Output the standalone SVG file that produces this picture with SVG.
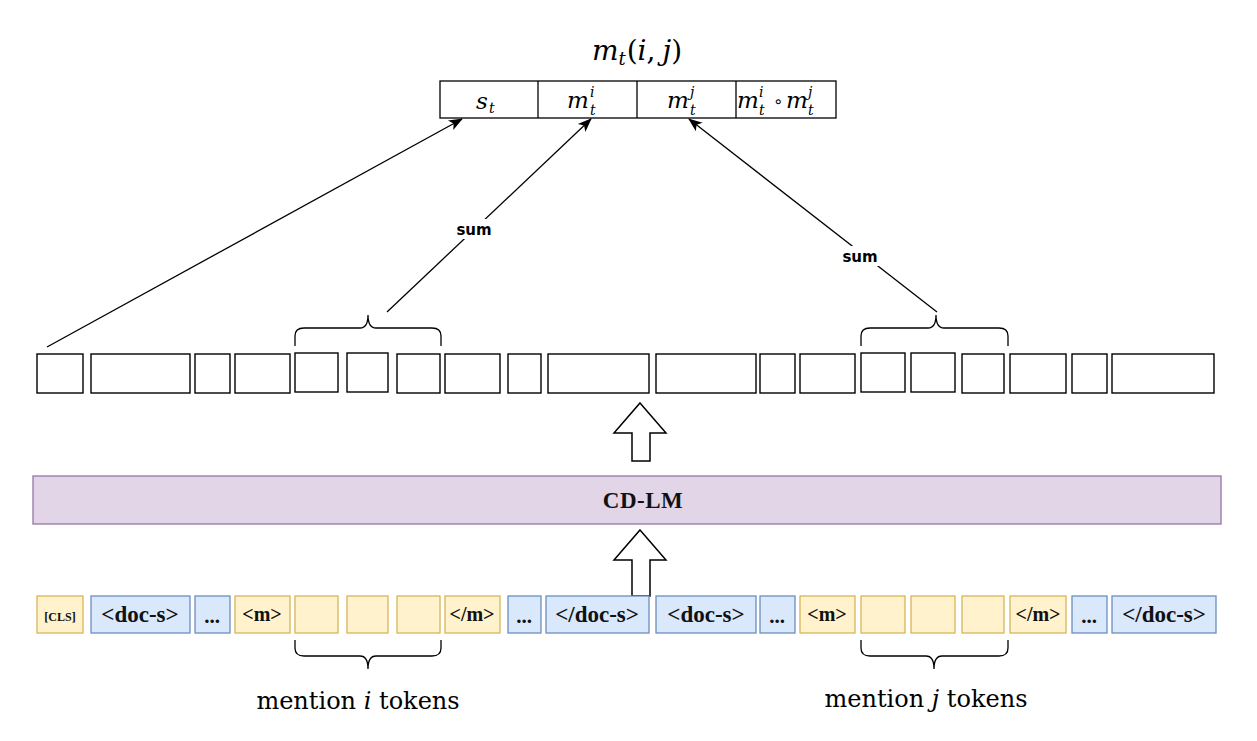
<svg xmlns="http://www.w3.org/2000/svg" width="1257" height="741" viewBox="0 0 1257 741">
<defs>
<marker id="arr" markerWidth="14" markerHeight="14" viewBox="0 0 14 14" refX="13" refY="7" orient="auto" markerUnits="userSpaceOnUse">
<path d="M0,1.5 L14,7 L0,12.5 L3.5,7 Z" fill="#000"/>
</marker>
<style>
.vec{fill:#fff;stroke:#000;stroke-width:1.3}
.hid{fill:#fff;stroke:#000;stroke-width:1.4}
.y{fill:#fff2cc;stroke:#d6b656;stroke-width:1.3}
.b{fill:#dae8fc;stroke:#6c8ebf;stroke-width:1.3}
.tok{font-family:"Liberation Serif",serif;font-weight:bold;fill:#111;text-anchor:middle}
.t23{font-size:23px}
.t21{font-size:21px}
.t20{font-size:20px}
.t12{font-size:12px}
.m{font-family:"DejaVu Serif",serif;font-style:italic;fill:#000}
.mb{font-size:23px}
.ms{font-size:14px}
.sum{font-family:"DejaVu Sans",sans-serif;font-weight:bold;font-size:15px;fill:#000;text-anchor:middle}
.ln{fill:none;stroke:#000;stroke-width:1.3}
.br{fill:none;stroke:#000;stroke-width:1.3}
.blk{fill:#fff;stroke:#000;stroke-width:1.5}
.lbl{font-family:"DejaVu Serif",serif;font-size:24px;fill:#000;text-anchor:middle}
.cd{font-family:"Liberation Serif",serif;font-weight:bold;font-size:23px;fill:#111;text-anchor:middle}
</style>
</defs>
<rect width="1257" height="741" fill="#fff"/>

<g id="title">
<text class="m" x="637" y="60" font-size="28" text-anchor="middle">m<tspan font-size="18" dy="5">t</tspan><tspan dy="-5" dx="1" font-style="normal">(</tspan>i<tspan font-style="normal">,</tspan><tspan dx="7">j</tspan><tspan font-style="normal">)</tspan></text>
</g>

<g id="vector">
<rect class="vec" x="440" y="81" width="396" height="37"/>
<line class="vec" x1="538" y1="81" x2="538" y2="118"/>
<line class="vec" x1="637" y1="81" x2="637" y2="118"/>
<line class="vec" x1="736" y1="81" x2="736" y2="118"/>
<text class="m mb" x="476" y="109">s</text><text class="m ms" x="489" y="113">t</text>
<text class="m mb" x="567" y="108">m</text><text class="m ms" x="590" y="97">i</text><text class="m ms" x="590" y="115">t</text>
<text class="m mb" x="667" y="108">m</text><text class="m ms" x="690" y="97">j</text><text class="m ms" x="690" y="115">t</text>
<text class="m mb" x="737" y="108">m</text><text class="m ms" x="759" y="97">i</text><text class="m ms" x="759" y="115">t</text>
<text x="778" y="107" font-size="16" font-family="DejaVu Sans,sans-serif" text-anchor="middle">∘</text>
<text class="m mb" x="786" y="108">m</text><text class="m ms" x="808" y="97">j</text><text class="m ms" x="808" y="115">t</text>
</g>

<g id="hidden">
<rect class="hid" x="37" y="354" width="46" height="39"/>
<rect class="hid" x="91" y="354" width="99" height="39"/>
<rect class="hid" x="195" y="354" width="35" height="39"/>
<rect class="hid" x="235" y="354" width="55" height="39"/>
<rect class="hid" x="295" y="353" width="43" height="39"/>
<rect class="hid" x="347" y="353" width="41" height="39"/>
<rect class="hid" x="397" y="354" width="43" height="39"/>
<rect class="hid" x="445" y="354" width="55" height="39"/>
<rect class="hid" x="508" y="354" width="33" height="39"/>
<rect class="hid" x="548" y="354" width="101" height="39"/>
<rect class="hid" x="656" y="354" width="100" height="39"/>
<rect class="hid" x="760" y="354" width="35" height="39"/>
<rect class="hid" x="800" y="354" width="55" height="39"/>
<rect class="hid" x="861" y="353" width="44" height="39"/>
<rect class="hid" x="911" y="353" width="44" height="39"/>
<rect class="hid" x="962" y="354" width="42" height="39"/>
<rect class="hid" x="1010" y="354" width="56" height="39"/>
<rect class="hid" x="1072" y="354" width="35" height="39"/>
<rect class="hid" x="1112" y="354" width="102" height="39"/>
</g>

<g id="arrow-up-1">
<path class="blk" d="M640,403 L666,433 L650,433 L650,461 L632,461 L632,433 L614,433 Z"/>
</g>

<g id="cdlm">
<rect x="33" y="476" width="1188" height="48" fill="#e1d5e7" stroke="#9673a6" stroke-width="1.3"/>
<text class="cd" x="643" y="508" letter-spacing="0.5">CD-LM</text>
</g>

<g id="arrow-up-2">
<path class="blk" d="M640,530 L666,560 L650,560 L650,596 L632,596 L632,560 L614,560 Z"/>
</g>

<g id="tokens">
<rect class="y" x="37" y="596" width="46" height="37"/><text class="tok t12" x="60" y="621">[CLS]</text>
<rect class="b" x="91" y="596" width="99" height="37"/><text class="tok t23" x="140" y="622" font-weight="normal">&lt;<tspan font-weight="bold">doc</tspan>-s&gt;</text>
<rect class="b" x="195" y="596" width="35" height="37"/><text class="tok t21" x="212" y="623">...</text>
<rect class="y" x="235" y="596" width="55" height="37"/><text class="tok t20" x="262" y="621">&lt;m&gt;</text>
<rect class="y" x="295" y="596" width="43" height="37"/>
<rect class="y" x="347" y="596" width="41" height="37"/>
<rect class="y" x="397" y="596" width="43" height="37"/>
<rect class="y" x="445" y="596" width="55" height="37"/><text class="tok t20" x="472" y="621">&lt;/m&gt;</text>
<rect class="b" x="508" y="596" width="33" height="37"/><text class="tok t21" x="524" y="623">...</text>
<rect class="b" x="546" y="596" width="103" height="37"/><text class="tok t23" x="597" y="622" font-weight="normal">&lt;/<tspan font-weight="bold">doc</tspan>-s&gt;</text>
<rect class="b" x="656" y="596" width="100" height="37"/><text class="tok t23" x="706" y="622" font-weight="normal">&lt;<tspan font-weight="bold">doc</tspan>-s&gt;</text>
<rect class="b" x="760" y="596" width="35" height="37"/><text class="tok t21" x="777" y="623">...</text>
<rect class="y" x="800" y="596" width="55" height="37"/><text class="tok t20" x="827" y="621">&lt;m&gt;</text>
<rect class="y" x="861" y="596" width="44" height="37"/>
<rect class="y" x="911" y="596" width="44" height="37"/>
<rect class="y" x="962" y="596" width="42" height="37"/>
<rect class="y" x="1010" y="596" width="56" height="37"/><text class="tok t20" x="1038" y="621">&lt;/m&gt;</text>
<rect class="b" x="1072" y="596" width="35" height="37"/><text class="tok t21" x="1089" y="623">...</text>
<rect class="b" x="1112" y="596" width="104" height="37"/><text class="tok t23" x="1164" y="622" font-weight="normal">&lt;/<tspan font-weight="bold">doc</tspan>-s&gt;</text>
</g>

<g id="braces">
<path class="br" d="M295,346 L295,336 Q295,328 304,328 L360,328 Q368,328 368,315 Q368,328 376,328 L432,328 Q441,328 441,336 L441,346"/>
<path class="br" d="M861,346 L861,336 Q861,328 870,328 L928,328 Q936,328 936,315 Q936,328 944,328 L999,328 Q1008,328 1008,336 L1008,346"/>
<path class="br" d="M295,640 L295,648 Q295,656 304,656 L360,656 Q368,656 368,669 Q368,656 376,656 L432,656 Q441,656 441,648 L441,640"/>
<path class="br" d="M861,640 L861,648 Q861,656 870,656 L926,656 Q934,656 934,669 Q934,656 942,656 L999,656 Q1008,656 1008,648 L1008,640"/>
<text class="lbl" x="358" y="709">mention <tspan font-style="italic">i</tspan> tokens</text>
<text class="lbl" x="926" y="707">mention <tspan font-style="italic">j</tspan> tokens</text>
</g>

<g id="connectors">
<line class="ln" x1="47" y1="347" x2="462" y2="119" marker-end="url(#arr)"/>
<line class="ln" x1="387" y1="312" x2="591" y2="119" marker-end="url(#arr)"/>
<line class="ln" x1="937" y1="312" x2="689" y2="119" marker-end="url(#arr)"/>
<rect x="452" y="219" width="44" height="20" fill="#fff"/>
<text class="sum" x="474" y="235">sum</text>
<rect x="837" y="246" width="46" height="20" fill="#fff"/>
<text class="sum" x="860" y="262">sum</text>
</g>
</svg>
